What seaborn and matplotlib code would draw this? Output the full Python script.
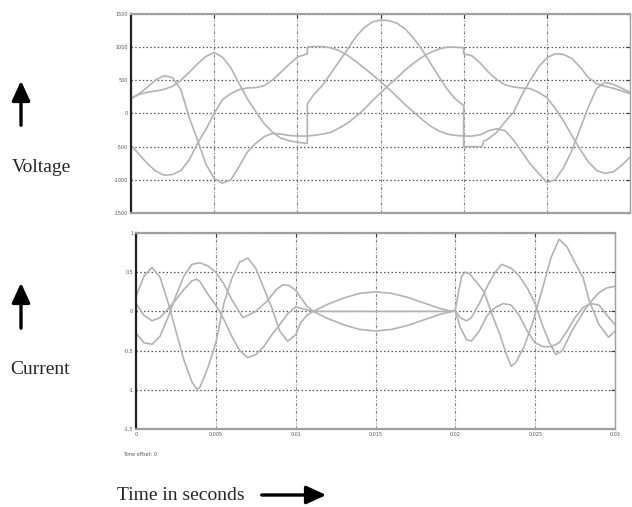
import matplotlib
matplotlib.use("Agg")
import matplotlib.pyplot as plt
import seaborn as sns
import pandas as pd

# ---------------- data ----------------
# Voltage curves (V) : time (s) and value lists; repeated times are switching jumps
v1_t = [0, 0.0005, 0.001, 0.0015, 0.002, 0.0025, 0.003, 0.0035, 0.004, 0.0045, 0.005,
        0.0055, 0.006, 0.0065, 0.007, 0.0075, 0.008, 0.0085, 0.009, 0.0095, 0.01, 0.0106,
        0.0106, 0.011, 0.0115, 0.012, 0.0125, 0.013, 0.0135, 0.014, 0.0145, 0.015, 0.0155,
        0.016, 0.0165, 0.017, 0.0175, 0.018, 0.0185, 0.019, 0.0195, 0.02, 0.0205, 0.021,
        0.0215, 0.022, 0.0225, 0.023, 0.0235, 0.024, 0.0245, 0.025, 0.0255, 0.026, 0.0265,
        0.027, 0.0275, 0.028, 0.0285, 0.029, 0.0295, 0.03]
v1_v = [-480, -620, -760, -870, -930, -920, -860, -700, -450, -240, 0,
        210, 300, 360, 385, 390, 420, 500, 620, 740, 850, 900,
        1000, 1010, 1010, 990, 950, 880, 790, 690, 590, 480, 370,
        250, 130, 20, -90, -190, -260, -310, -330, -340, -340, -320,
        -260, -230, -260, -400, -580, -760, -900, -1040, -1000, -820, -560,
        -230, 100, 380, 470, 440, 380, 320]

v2_t = [0, 0.0005, 0.001, 0.0015, 0.002, 0.0025, 0.003, 0.0035, 0.004, 0.0045, 0.005,
        0.0055, 0.006, 0.0065, 0.007, 0.0075, 0.008, 0.0085, 0.009, 0.0095, 0.01, 0.0106,
        0.0106, 0.011, 0.0115, 0.012, 0.0125, 0.013, 0.0135, 0.014, 0.0145, 0.015, 0.0155,
        0.016, 0.0165, 0.017, 0.0175, 0.018, 0.0185, 0.019, 0.0195, 0.02,
        0.02, 0.0205, 0.0211, 0.0212, 0.0215, 0.022, 0.0225, 0.023, 0.0235, 0.024, 0.0245,
        0.025, 0.0255, 0.026, 0.0265, 0.027, 0.0275, 0.028, 0.0285, 0.029, 0.0295, 0.03]
v2_v = [225, 290, 320, 340, 365, 410, 500, 620, 750, 860, 920,
        850, 690, 450, 220, 30, -150, -280, -370, -410, -435, -450,
        150, 290, 420, 600, 780, 960, 1150, 1290, 1380, 1410, 1400,
        1360, 1270, 1130, 960, 760, 560, 370, 220, 120,
        -500, -500, -500, -420, -380, -280, -120, 20, 280, 500, 700,
        840, 900, 890, 830, 700, 540, 450, 410, 380, 340, 300]

v3_t = [0, 0.0005, 0.001, 0.0015, 0.002, 0.0025, 0.003, 0.0035, 0.004, 0.0045, 0.005,
        0.0055, 0.006, 0.0065, 0.007, 0.0075, 0.008, 0.0085, 0.009, 0.0095, 0.01, 0.0105,
        0.011, 0.0115, 0.012, 0.0125, 0.013, 0.0135, 0.014, 0.0145, 0.015, 0.0155, 0.016,
        0.0165, 0.017, 0.0175, 0.018, 0.0185, 0.019, 0.0195, 0.02, 0.02, 0.0205, 0.021,
        0.0215, 0.022, 0.0225, 0.023, 0.0235, 0.024, 0.0245, 0.025, 0.0255, 0.026, 0.0265,
        0.027, 0.0275, 0.028, 0.0285, 0.029, 0.0295, 0.03]
v3_v = [225, 300, 400, 510, 570, 540, 360, -60, -400, -760, -980,
        -1050, -1000, -800, -580, -450, -350, -300, -310, -330, -340, -340,
        -330, -310, -285, -220, -150, -50, 60, 190, 310, 430, 540,
        660, 760, 850, 920, 970, 1000, 1000, 990, 900, 870, 760,
        620, 510, 430, 400, 385, 375, 320, 240, 80, -110, -330,
        -540, -730, -860, -900, -880, -780, -660]

# Current curves (A)
i1_t = [0, 0.0005, 0.001, 0.0015, 0.002, 0.0025, 0.003, 0.0035, 0.0038, 0.004, 0.0045,
        0.005, 0.0055, 0.006, 0.0065, 0.007, 0.0075, 0.008, 0.0085, 0.009, 0.0095, 0.01,
        0.0103, 0.0107, 0.0111, 0.012, 0.013, 0.014, 0.015, 0.016, 0.017, 0.018, 0.019,
        0.0198, 0.02, 0.0202, 0.0204, 0.0206, 0.0209, 0.0213, 0.0218, 0.0223, 0.0228,
        0.0232, 0.0235, 0.0238, 0.0243, 0.0248, 0.0254, 0.026, 0.0265, 0.027, 0.0275,
        0.028, 0.0284, 0.029, 0.0296, 0.03]
i1_v = [0.19, 0.45, 0.56, 0.44, 0.12, -0.25, -0.62, -0.9, -0.99, -0.97, -0.72,
        -0.4, 0.1, 0.42, 0.63, 0.68, 0.55, 0.3, 0.05, -0.25, -0.38, -0.3,
        -0.15, -0.05, 0.0, 0.09, 0.17, 0.23, 0.25, 0.23, 0.18, 0.11, 0.04,
        0.0, 0.02, 0.25, 0.45, 0.5, 0.48, 0.38, 0.25, -0.04, -0.3,
        -0.55, -0.7, -0.65, -0.45, -0.17, 0.25, 0.69, 0.92, 0.82, 0.62,
        0.43, 0.13, -0.17, -0.33, -0.25]

i2_t = [0, 0.0005, 0.001, 0.0015, 0.002, 0.0025, 0.003, 0.0035, 0.004, 0.0045, 0.005,
        0.0055, 0.006, 0.0067, 0.0075, 0.0082, 0.0088, 0.0092, 0.0096, 0.01, 0.0103,
        0.0107, 0.0111, 0.012, 0.013, 0.014, 0.015, 0.016, 0.017, 0.018, 0.019, 0.0198,
        0.02, 0.0203, 0.0207, 0.021, 0.0215, 0.022, 0.0225, 0.0229, 0.0235, 0.024, 0.0245,
        0.025, 0.0255, 0.0259, 0.0263, 0.0267, 0.0273, 0.0278, 0.0282, 0.0286, 0.029,
        0.0295, 0.03]
i2_v = [-0.28, -0.4, -0.42, -0.32, -0.08, 0.2, 0.45, 0.6, 0.62, 0.58, 0.5,
        0.35, 0.15, -0.08, 0.0, 0.13, 0.28, 0.34, 0.33, 0.27, 0.18,
        0.07, 0.0, -0.09, -0.17, -0.23, -0.25, -0.23, -0.18, -0.11, -0.04, 0.0,
        0.01, -0.08, -0.12, -0.08, 0.1, 0.32, 0.5, 0.6, 0.55, 0.45, 0.3,
        0.1, -0.2, -0.4, -0.55, -0.5, -0.25, -0.08, 0.05, 0.15, 0.24,
        0.3, 0.32]

i3_t = [0, 0.0005, 0.001, 0.0015, 0.002, 0.0025, 0.003, 0.0035, 0.0038, 0.004, 0.0045,
        0.005, 0.0055, 0.006, 0.0065, 0.007, 0.0075, 0.008, 0.0085, 0.009, 0.0095, 0.01,
        0.0105, 0.0111, 0.0198, 0.02, 0.0203, 0.0207, 0.021, 0.0215, 0.022, 0.0225, 0.023,
        0.0235, 0.024, 0.0245, 0.025, 0.0255, 0.026, 0.0265, 0.027, 0.0275, 0.028, 0.0285,
        0.029, 0.0295, 0.03]
i3_v = [0.1, -0.05, -0.12, -0.08, 0.03, 0.15, 0.28, 0.39, 0.41, 0.38, 0.22,
        0.08, -0.1, -0.32, -0.5, -0.59, -0.55, -0.45, -0.3, -0.17, -0.03, 0.06,
        0.03, 0.0, 0.0, 0.0, -0.2, -0.36, -0.38, -0.25, -0.05, 0.05, 0.1,
        0.08, -0.05, -0.25, -0.4, -0.45, -0.45, -0.4, -0.25, -0.08, 0.05, 0.1,
        0.08, -0.05, -0.17]

x_ticks = [0, 0.005, 0.01, 0.015, 0.02, 0.025, 0.03]
x_labels = ["0", "0.005", "0.01", "0.015", "0.02", "0.025", "0.03"]
v_ticks = [-1500, -1000, -500, 0, 500, 1000, 1500]
v_labels = ["-1500", "-1000", "-500", "0", "500", "1000", "1500"]
i_ticks = [-1.5, -1, -0.5, 0, 0.5, 1]
i_labels = ["-1.5", "-1", "-0.5", "0", "0.5", "1"]

# ---------------- figure ----------------
sns.set_style("white")
plt.rcParams['font.family'] = ['DejaVu Sans']

W, H = 632, 507
fig = plt.figure(figsize=(W / 100, H / 100), dpi=100)


def box(l, t, r, b):
    return [l / W, 1 - b / H, (r - l) / W, (b - t) / H]


ax1 = fig.add_axes(box(131, 14, 630, 213))
ax2 = fig.add_axes(box(136, 233, 615, 429))

LINE = '#b3b3b3'


def draw(ax, curves):
    rows = []
    for name, (ts, vs) in curves.items():
        for k, (t, v) in enumerate(zip(ts, vs)):
            rows.append({'curve': name, 'order': k, 't': t, 'v': v})
    df = pd.DataFrame(rows)
    sns.lineplot(data=df, x='t', y='v', hue='curve', palette=[LINE] * len(curves),
                 estimator=None, sort=False, legend=False, ax=ax, linewidth=1.2)


draw(ax1, {'a': (v1_t, v1_v), 'b': (v2_t, v2_v), 'c': (v3_t, v3_v)})
draw(ax2, {'a': (i1_t, i1_v), 'b': (i2_t, i2_v), 'c': (i3_t, i3_v)})


def style(ax, yt, yl, ylim, show_x):
    ax.set_xlim(0, 0.03)
    ax.set_ylim(*ylim)
    ax.set_xticks(x_ticks)
    ax.set_yticks(yt)
    ax.set_yticklabels(yl)
    if show_x:
        ax.set_xticklabels(x_labels)
    else:
        ax.set_xticklabels([])
    ax.set_xlabel('')
    ax.set_ylabel('')
    ax.tick_params(axis='both', labelsize=3.5, labelcolor='#555555', direction='in',
                   length=3, width=0.8, color='#333333', top=True, right=True, pad=2)
    ax.yaxis.grid(True, linestyle=(0, (1.2, 1.8)), color='#555555', linewidth=0.9)
    ax.xaxis.grid(True, linestyle=(0, (3, 1.5, 1, 1.5)), color='#8a8a8a', linewidth=0.8)
    ax.set_axisbelow(True)
    for s in ['top', 'right', 'bottom']:
        ax.spines[s].set_color('#a0a0a0')
        ax.spines[s].set_linewidth(1.6)
    ax.spines['right'].set_linewidth(1.0)
    ax.spines['left'].set_color('#222222')
    ax.spines['left'].set_linewidth(1.6)


style(ax1, v_ticks, v_labels, (-1500, 1500), False)
style(ax2, i_ticks, i_labels, (-1.5, 1), True)

# ---------------- annotations ----------------
serif = ['Liberation Serif', 'DejaVu Serif']


def fx(x):
    return x / W


def fy(y):
    return 1 - y / H


fig.text(fx(12), fy(168), 'Voltage', family=serif, fontsize=14, va='center', ha='left')
fig.text(fx(10), fy(370), 'Current', family=serif, fontsize=14, va='center', ha='left')
fig.text(fx(117), fy(495), 'Time in seconds', family=serif, fontsize=14, va='center', ha='left')
fig.text(fx(123), fy(455), 'Time offset: 0', fontsize=3.5, color='#555555', va='center', ha='left')

style_arrow = '-|>,head_width=0.55,head_length=1.2'
for p0, p1 in [((21, 128), (21, 78)), ((21, 331), (21, 280)), ((259, 495), (329, 495))]:
    fig.add_artist(matplotlib.patches.FancyArrowPatch(
        (fx(p0[0]), fy(p0[1])), (fx(p1[0]), fy(p1[1])),
        transform=fig.transFigure, arrowstyle=style_arrow, lw=2.4,
        color='black', mutation_scale=10))

fig.savefig('out.png', dpi=100)
